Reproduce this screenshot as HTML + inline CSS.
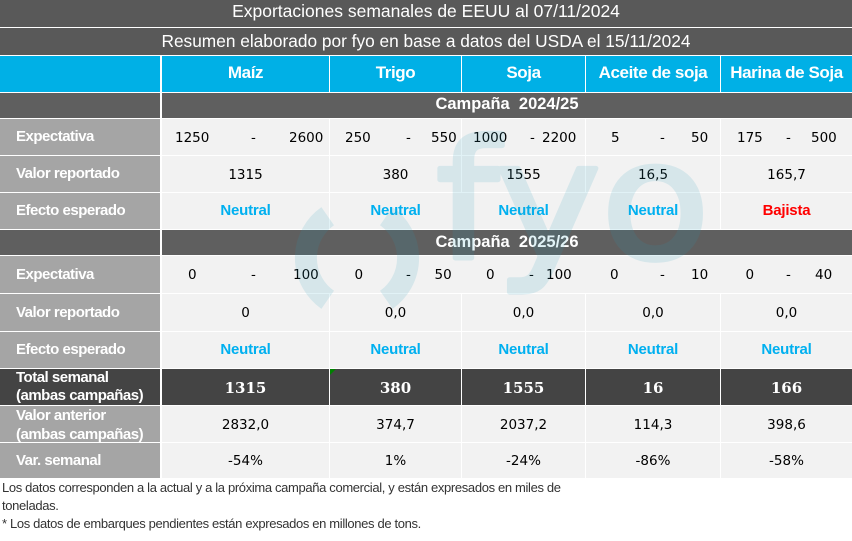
<!DOCTYPE html>
<html><head><meta charset="utf-8">
<style>
body{margin:0;width:852px;height:541px;overflow:hidden;background:#fff;position:relative;font-family:"Liberation Sans",sans-serif}
.b{position:absolute;box-sizing:border-box;white-space:nowrap}
.lt{background:#f2f2f2}
.gy{background:#a5a5a5;color:#fff;font-weight:bold;font-size:15px;letter-spacing:-0.5px;padding-left:16px}
.dg{background:#444;color:#fff;font-weight:bold;font-size:15px;letter-spacing:-0.5px;padding-left:16px}
.dk{background:#5f5f5f}
.bl{background:#00b0e6;color:#fff;font-weight:bold;font-size:17px;letter-spacing:-0.4px;text-align:center;line-height:34px}
.n{font-family:"DejaVu Sans",sans-serif;font-size:13.5px;color:#000;text-align:center}
.ne{color:#00b0f0;font-weight:bold;font-size:15px;letter-spacing:-0.2px;text-align:center}
.tt{font-family:"DejaVu Serif",serif;font-weight:bold;font-size:15px;color:#fff;text-align:center;background:#444}
.x{position:absolute;font-family:"DejaVu Sans",sans-serif;font-size:13.5px;color:#000;white-space:nowrap}
.cp{color:#fff;font-weight:bold;font-size:16.5px;text-align:center}
.ft{position:absolute;left:2px;top:479px;font-size:13px;letter-spacing:-0.35px;line-height:18px;color:#333;white-space:nowrap}
</style></head><body>

<div class="b" style="left:0;top:0;width:852px;height:27px;background:#595959;color:#fff;font-size:17.5px;line-height:23px;text-align:center">Exportaciones semanales de EEUU al 07/11/2024</div>
<div class="b" style="left:0;top:28px;width:852px;height:27px;background:#595959;color:#fff;font-size:17.3px;line-height:27px;text-align:center">Resumen elaborado por fyo en base a datos del USDA el 15/11/2024</div>

<div class="b bl" style="left:0;top:56px;width:160px;height:36px"></div>
<div class="b bl" style="left:162px;top:56px;width:167px;height:36px">Maíz</div>
<div class="b bl" style="left:330px;top:56px;width:131px;height:36px">Trigo</div>
<div class="b bl" style="left:462px;top:56px;width:123px;height:36px">Soja</div>
<div class="b bl" style="left:586px;top:56px;width:134px;height:36px">Aceite de soja</div>
<div class="b bl" style="left:721px;top:56px;width:131px;height:36px">Harina de Soja</div>

<div class="b dk" style="left:0;top:93px;width:160px;height:25px"></div>
<div class="b dk cp" style="left:162px;top:93px;width:690px;height:25px;line-height:23px">Campaña&nbsp; 2024/25</div>

<div class="b gy" style="left:0;top:119px;width:160px;height:36px;line-height:36px">Expectativa</div>
<div class="b lt" style="left:162px;top:119px;width:167px;height:36px"></div>
<div class="b lt" style="left:330px;top:119px;width:131px;height:36px"></div>
<div class="b lt" style="left:462px;top:119px;width:123px;height:36px"></div>
<div class="b lt" style="left:586px;top:119px;width:134px;height:36px"></div>
<div class="b lt" style="left:721px;top:119px;width:131px;height:36px"></div>

<div class="b gy" style="left:0;top:156px;width:160px;height:36px;line-height:36px">Valor reportado</div>
<div class="b lt n" style="left:162px;top:156px;width:167px;height:36px;line-height:38px">1315</div>
<div class="b lt n" style="left:330px;top:156px;width:131px;height:36px;line-height:38px">380</div>
<div class="b lt n" style="left:462px;top:156px;width:123px;height:36px;line-height:38px">1555</div>
<div class="b lt n" style="left:586px;top:156px;width:134px;height:36px;line-height:38px">16,5</div>
<div class="b lt n" style="left:721px;top:156px;width:131px;height:36px;line-height:38px">165,7</div>

<div class="b gy" style="left:0;top:193px;width:160px;height:36px;line-height:36px">Efecto esperado</div>
<div class="b lt ne" style="left:162px;top:193px;width:167px;height:36px;line-height:36px">Neutral</div>
<div class="b lt" style="left:330px;top:193px;width:390px;height:36px"></div>
<div class="b ne" style="left:330px;top:193px;width:131px;height:36px;line-height:36px">Neutral</div>
<div class="b ne" style="left:462px;top:193px;width:123px;height:36px;line-height:36px">Neutral</div>
<div class="b ne" style="left:586px;top:193px;width:134px;height:36px;line-height:36px">Neutral</div>
<div class="b lt ne" style="left:721px;top:193px;width:131px;height:36px;line-height:36px;color:#ff0000">Bajista</div>

<div class="b dk" style="left:0;top:230px;width:160px;height:25px"></div>
<div class="b dk cp" style="left:162px;top:230px;width:690px;height:25px;line-height:24px">Campaña&nbsp; 2025/26</div>

<div class="b gy" style="left:0;top:256px;width:160px;height:37px;line-height:37px">Expectativa</div>
<div class="b lt" style="left:162px;top:256px;width:690px;height:37px"></div>

<div class="b gy" style="left:0;top:294px;width:160px;height:37px;line-height:37px">Valor reportado</div>
<div class="b lt n" style="left:162px;top:294px;width:167px;height:37px;line-height:39px">0</div>
<div class="b lt n" style="left:330px;top:294px;width:131px;height:37px;line-height:39px">0,0</div>
<div class="b lt n" style="left:462px;top:294px;width:123px;height:37px;line-height:39px">0,0</div>
<div class="b lt n" style="left:586px;top:294px;width:134px;height:37px;line-height:39px">0,0</div>
<div class="b lt n" style="left:721px;top:294px;width:131px;height:37px;line-height:39px">0,0</div>

<div class="b gy" style="left:0;top:332px;width:160px;height:36px;line-height:36px">Efecto esperado</div>
<div class="b lt ne" style="left:162px;top:332px;width:167px;height:36px;line-height:36px">Neutral</div>
<div class="b lt ne" style="left:330px;top:332px;width:131px;height:36px;line-height:36px">Neutral</div>
<div class="b lt ne" style="left:462px;top:332px;width:123px;height:36px;line-height:36px">Neutral</div>
<div class="b lt ne" style="left:586px;top:332px;width:134px;height:36px;line-height:36px">Neutral</div>
<div class="b lt ne" style="left:721px;top:332px;width:131px;height:36px;line-height:36px">Neutral</div>

<div class="b dg" style="left:0;top:369px;width:160px;height:36px;line-height:18.4px">Total semanal<br>(ambas campañas)</div>
<div class="b tt" style="left:162px;top:369px;width:167px;height:36px;line-height:38px">1315</div>
<div class="b tt" style="left:330px;top:369px;width:131px;height:36px;line-height:38px">380</div>
<div class="b tt" style="left:462px;top:369px;width:123px;height:36px;line-height:38px">1555</div>
<div class="b tt" style="left:586px;top:369px;width:134px;height:36px;line-height:38px">16</div>
<div class="b tt" style="left:721px;top:369px;width:131px;height:36px;line-height:38px">166</div>
<div style="position:absolute;left:330px;top:369px;width:0;height:0;border-top:6px solid #008000;border-right:6px solid transparent"></div>

<div class="b lt n" style="left:162px;top:406px;width:167px;height:36px;line-height:39px">2832,0</div>
<div class="b lt n" style="left:330px;top:406px;width:131px;height:36px;line-height:39px">374,7</div>
<div class="b lt n" style="left:462px;top:406px;width:123px;height:36px;line-height:39px">2037,2</div>
<div class="b lt n" style="left:586px;top:406px;width:134px;height:36px;line-height:39px">114,3</div>
<div class="b lt n" style="left:721px;top:406px;width:131px;height:36px;line-height:39px">398,6</div>
<div class="b gy" style="left:0;top:406px;width:160px;height:36px;line-height:19px">Valor anterior<br>(ambas campañas)</div>

<div class="b gy" style="left:0;top:443px;width:160px;height:35px;line-height:35px">Var. semanal</div>
<div class="b lt n" style="left:162px;top:443px;width:167px;height:35px;line-height:37px">-54%</div>
<div class="b lt n" style="left:330px;top:443px;width:131px;height:35px;line-height:37px">1%</div>
<div class="b lt n" style="left:462px;top:443px;width:123px;height:35px;line-height:37px">-24%</div>
<div class="b lt n" style="left:586px;top:443px;width:134px;height:35px;line-height:37px">-86%</div>
<div class="b lt n" style="left:721px;top:443px;width:131px;height:35px;line-height:37px">-58%</div>

<div class="x" style="left:175px;top:119px;line-height:38px">1250</div>
<div class="x" style="left:251px;top:119px;line-height:38px">-</div>
<div class="x" style="left:289px;top:119px;line-height:38px">2600</div>
<div class="x" style="left:345px;top:119px;line-height:38px">250</div>
<div class="x" style="left:406px;top:119px;line-height:38px">-</div>
<div class="x" style="left:431px;top:119px;line-height:38px">550</div>
<div class="x" style="left:473px;top:119px;line-height:38px">1000</div>
<div class="x" style="left:530px;top:119px;line-height:38px">-</div>
<div class="x" style="left:542px;top:119px;line-height:38px">2200</div>
<div class="x" style="left:611px;top:119px;line-height:38px">5</div>
<div class="x" style="left:660px;top:119px;line-height:38px">-</div>
<div class="x" style="left:691px;top:119px;line-height:38px">50</div>
<div class="x" style="left:737px;top:119px;line-height:38px">175</div>
<div class="x" style="left:786px;top:119px;line-height:38px">-</div>
<div class="x" style="left:811px;top:119px;line-height:38px">500</div>

<div class="x" style="left:188px;top:256px;line-height:39px">0</div>
<div class="x" style="left:251px;top:256px;line-height:39px">-</div>
<div class="x" style="left:293px;top:256px;line-height:39px">100</div>
<div class="x" style="left:354.5px;top:256px;line-height:39px">0</div>
<div class="x" style="left:406px;top:256px;line-height:39px">-</div>
<div class="x" style="left:434.5px;top:256px;line-height:39px">50</div>
<div class="x" style="left:486px;top:256px;line-height:39px">0</div>
<div class="x" style="left:529px;top:256px;line-height:39px">-</div>
<div class="x" style="left:546px;top:256px;line-height:39px">100</div>
<div class="x" style="left:610px;top:256px;line-height:39px">0</div>
<div class="x" style="left:660px;top:256px;line-height:39px">-</div>
<div class="x" style="left:691px;top:256px;line-height:39px">10</div>
<div class="x" style="left:745.5px;top:256px;line-height:39px">0</div>
<div class="x" style="left:786px;top:256px;line-height:39px">-</div>
<div class="x" style="left:815px;top:256px;line-height:39px">40</div>

<svg style="position:absolute;left:0;top:0" width="852" height="541">
  <g opacity="0.135">
    <path d="M327.7 216.2 A51 51 0 0 0 327.7 299.8" fill="none" stroke="rgb(40,160,190)" stroke-width="22"/>
    <path d="M386.3 216.2 A51 51 0 0 1 386.3 299.8" fill="none" stroke="rgb(40,160,190)" stroke-width="22"/>
    <text x="436" y="258" font-family="DejaVu Sans, sans-serif" font-size="164" fill="rgb(40,160,190)" stroke="rgb(40,160,190)" stroke-width="5" stroke-linejoin="round" textLength="274" lengthAdjust="spacingAndGlyphs">fyo</text>
  </g>
</svg>

<div class="ft">Los datos corresponden a la actual y a la próxima campaña comercial, y están expresados en miles de<br>toneladas.<br>* Los datos de embarques pendientes están expresados en millones de tons.</div>

</body></html>
